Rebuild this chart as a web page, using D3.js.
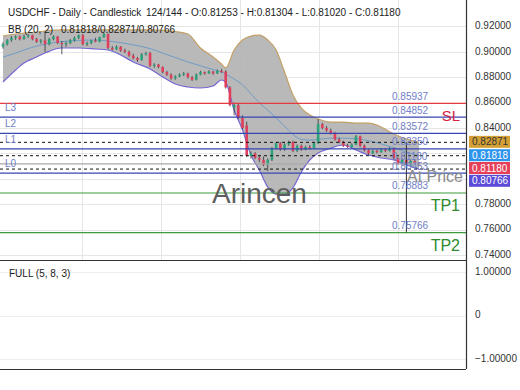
<!DOCTYPE html>
<html>
<head>
<meta charset="utf-8">
<title>USDCHF Daily Candlestick</title>
<style>
  body { margin: 0; background: #fff; }
  svg { display: block; font-family: "Liberation Sans", Arial, sans-serif; }
  .axis text { font-size: 10px; fill: #333; }
  .axis path, .axis line { display: none; }
</style>
</head>
<body>
<svg width="520" height="390"></svg>
<script src="https://cdn.jsdelivr.net/npm/d3@7"></script>
<script>
// candles
var opens = [.9040,.9060,.9090,.9110,.9120,.9100,.9120,.9130,.9100,.9080,
             .9090,.9060,.9100,.9120,.9070,.9060,.9070,.9090,.9110,.9130,
             .9060,.9070,.9090,.9080,.9115,.9140,.9030,.9020,.9040,.9010,
             .9000,.8970,.8950,.8935,.8980,.8990,.8890,.8900,.8880,.8840,
             .8820,.8790,.8805,.8820,.8830,.8800,.8780,.8820,.8840,.8830,
             .8845,.8830,.8850,.8845,.8720,.8560,.8580,.8480,.8420,.8180,
             .8200,.8165,.8150,.8110,.8150,.8240,.8280,.8230,.8270,.8290,
             .8220,.8260,.8230,.8250,.8240,.8280,.8430,.8400,.8380,.8360,
             .8310,.8290,.8260,.8250,.8270,.8335,.8260,.8225,.8200,.8220,
             .8210,.8230,.8220,.8240,.8160,.8120,.8150,.8110,.8140,.81253];
var highs = [.9075,.9100,.9125,.9130,.9128,.9135,.9140,.9135,.9110,.9100,
             .9160,.9110,.9130,.9125,.9085,.9080,.9100,.9120,.9135,.9140,
             .9080,.9095,.9110,.9120,.9150,.9145,.9045,.9050,.9045,.9025,
             .9010,.8985,.8960,.8990,.9000,.9000,.8910,.8905,.8885,.8850,
             .8830,.8815,.8830,.8840,.8835,.8810,.8830,.8850,.8845,.8855,
             .8850,.8860,.8865,.8855,.8730,.8600,.8590,.8500,.8450,.8215,
             .8210,.8180,.8175,.8160,.8250,.8290,.8290,.8280,.8300,.8300,
             .8270,.8270,.8260,.8265,.8290,.8470,.8440,.8415,.8395,.8370,
             .8325,.8300,.8275,.8280,.8345,.8340,.8270,.8235,.8230,.8230,
             .8240,.8240,.8250,.8245,.8170,.8160,.8155,.8150,.8150,.81304];
var lows   = [.9025,.9050,.9080,.9095,.9090,.9095,.9110,.9090,.9070,.9065,
             .9000,.9050,.9090,.9060,.8980,.9040,.9060,.9080,.9100,.9050,
             .9045,.9060,.9075,.9075,.9110,.9020,.9010,.9015,.9000,.8990,
             .8960,.8940,.8920,.8930,.8970,.8880,.8875,.8870,.8830,.8810,
             .8780,.8780,.8800,.8810,.8790,.8770,.8775,.8815,.8820,.8825,
             .8820,.8825,.8835,.8710,.8570,.8500,.8470,.8390,.8170,.8160,
             .8155,.8130,.8100,.8060,.8140,.8230,.8220,.8220,.8260,.8210,
             .8210,.8220,.8225,.8230,.8235,.8275,.8390,.8370,.8350,.8300,
             .8280,.8250,.8240,.8245,.8265,.8250,.8215,.8190,.8195,.8200,
             .8205,.8210,.8215,.8150,.8110,.8110,.8100,.8100,.8115,.81020];
var closes = [.9060,.9090,.9110,.9120,.9100,.9120,.9130,.9100,.9080,.9090,
             .9060,.9100,.9120,.9070,.9060,.9070,.9090,.9110,.9130,.9060,
             .9070,.9090,.9080,.9115,.9140,.9030,.9020,.9040,.9010,.9000,
             .8970,.8950,.8935,.8980,.8990,.8890,.8900,.8880,.8840,.8820,
             .8790,.8805,.8820,.8830,.8800,.8780,.8820,.8840,.8830,.8845,
             .8830,.8850,.8840,.8720,.8580,.8580,.8480,.8400,.8180,.8200,
             .8165,.8150,.8110,.8150,.8240,.8280,.8230,.8270,.8290,.8220,
             .8260,.8230,.8250,.8240,.8280,.8430,.8400,.8380,.8360,.8310,
             .8290,.8260,.8250,.8270,.8335,.8260,.8225,.8200,.8220,.8210,
             .8230,.8220,.8240,.8160,.8120,.8150,.8110,.8140,.8125,.81180];

// Bollinger band (20, 2), read at these candle indices
var bbIdx   = [0,3,5,8,10,14,18,22,25,28,31,35,38,41,44,47,50,52,53,55,57,59,61,
               63,65,67,69,71,73,75,78,81,84,87,90,93,96,99];
var bbUpper = [.9124,.9140,.9148,.9156,.9164,.9172,.9172,.9172,.9172,.9172,.9172,
               .9172,.9168,.9160,.9140,.9030,.8959,.8904,.8872,.9014,.9093,.9124,
               .9132,.9093,.9014,.8841,.8660,.8557,.8502,.8471,.8447,.8447,.8439,
               .8439,.8408,.8353,.8313,.82871];
var bbMid   = [.8959,.8990,.9014,.9045,.9061,.9080,.9090,.9093,.9085,.9072,.9055,
               .9025,.8990,.8955,.8920,.8890,.8860,.8840,.8825,.8785,.8740,.8670,
               .8600,.8540,.8480,.8415,.8350,.8310,.8305,.8310,.8320,.8320,.8315,
               .8300,.8275,.8245,.8210,.81818];
var bbLower = [.8762,.8857,.8912,.8959,.8991,.9030,.9030,.9022,.9014,.8975,.8920,
               .8865,.8802,.8746,.8723,.8715,.8731,.8778,.8760,.8542,.8384,.8187,
               .8069,.7935,.7880,.7880,.7928,.8054,.8148,.8203,.8242,.8266,.8227,
               .8187,.8164,.8148,.8109,.80766];

// trade levels
var levelNames  = ["SL","L3","L2","L1","At Price","L0","TP1","TP2"];
var levelValues = [0.85937,0.84852,0.83572,0.82350,0.81180,0.80453,0.78883,0.75766];
var bbLast      = [0.81818,0.82871,0.80766];
var badgeValues = [0.82871,0.81818,0.81180,0.80766];
var markerIdx   = 96;

var priceTicks = [0.74,0.76,0.78,0.80,0.82,0.84,0.86,0.88,0.90,0.92];
var priceLabels = [0.74,0.76,0.78,0.84,0.86,0.88,0.90,0.92];
var oscTicks   = [-1,0,1];
var gridIdx    = [18.8,37.6,56.4,75.2,94];

var svg = d3.select("svg");
var W = 466, mainBottom = 260, oscBottom = 369;

var x = d3.scaleLinear().domain([0, 99]).range([3, 419]);
var y = d3.scaleLinear().domain([0.74, 0.92]).range([255, 26.4]);
var yo = d3.scaleLinear().domain([-1, 1]).range([359, 272]);

svg.append("clipPath").attr("id", "mainclip")
  .append("rect").attr("width", W).attr("height", mainBottom);

// grid
var grid = svg.append("g").attr("stroke", "#e6e6e6").attr("stroke-width", 1);
grid.selectAll(".gh").data(priceTicks).join("line")
  .attr("x1", 0).attr("x2", W)
  .attr("y1", function(d) { return Math.round(y(d)) + 0.5; })
  .attr("y2", function(d) { return Math.round(y(d)) + 0.5; });
grid.selectAll(".gv").data(gridIdx).join("line")
  .attr("x1", function(d) { return Math.round(x(d)) + 0.5; })
  .attr("x2", function(d) { return Math.round(x(d)) + 0.5; })
  .attr("y1", 0).attr("y2", mainBottom);
grid.selectAll(".go").data(oscTicks).join("line")
  .attr("x1", 0).attr("x2", W)
  .attr("y1", function(d) { return Math.round(yo(d)) + 0.5; })
  .attr("y2", function(d) { return Math.round(yo(d)) + 0.5; })
  .attr("stroke", "#eeeeee");

var plot = svg.append("g").attr("clip-path", "url(#mainclip)");

// bollinger band
var bb = bbIdx.map(function(d, i) {
  return { i: d, up: bbUpper[i], mid: bbMid[i], lo: bbLower[i] };
});
var curve = d3.curveMonotoneX;
plot.append("path").datum(bb)
  .attr("fill", "#b3b3b3").attr("fill-opacity", 0.92)
  .attr("d", d3.area().curve(curve)
    .x(function(d) { return x(d.i); })
    .y0(function(d) { return y(d.lo); })
    .y1(function(d) { return y(d.up); }));

function bandLine(key, color, w) {
  plot.append("path").datum(bb)
    .attr("fill", "none").attr("stroke", color).attr("stroke-width", w)
    .attr("d", d3.line().curve(curve)
      .x(function(d) { return x(d.i); })
      .y(function(d) { return y(d[key]); }));
}
bandLine("up", "#c4a066", 1.2);
bandLine("lo", "#7467d4", 1.2);
bandLine("mid", "#6e9cc8", 1);

// candles
var candles = closes.map(function(c, i) {
  return { i: i, o: opens[i], h: highs[i], l: lows[i], c: c };
});
var cg = plot.append("g");
cg.selectAll(".wick").data(candles).join("line")
  .attr("x1", function(d) { return x(d.i); })
  .attr("x2", function(d) { return x(d.i); })
  .attr("y1", function(d) { return y(d.h); })
  .attr("y2", function(d) { return y(d.l); })
  .attr("stroke", "#333").attr("stroke-width", 0.8);
cg.selectAll(".body").data(candles).join("rect")
  .attr("x", function(d) { return x(d.i) - 1.3; })
  .attr("width", 2.6)
  .attr("y", function(d) { return y(Math.max(d.o, d.c)); })
  .attr("height", function(d) { return Math.max(1, Math.abs(y(d.o) - y(d.c))); })
  .attr("fill", function(d) { return d.c >= d.o ? "#2aa37a" : "#df3f5c"; });

// levels
function levelColor(name) {
  if (name === "SL") return "#e53a3f";
  if (name.indexOf("TP") === 0) return "#3d9a3d";
  if (name === "At Price") return "#a8a8a8";
  return "#3647b0";
}
plot.selectAll(".lvl").data(levelValues).join("line")
  .attr("x1", 0).attr("x2", W)
  .attr("y1", function(d) { return y(d); })
  .attr("y2", function(d) { return y(d); })
  .attr("stroke", function(d, i) { return levelColor(levelNames[i]); })
  .attr("stroke-width", 1.2);

plot.selectAll(".dash").data(bbLast).join("line")
  .attr("x1", 0).attr("x2", W)
  .attr("y1", function(d) { return y(d); })
  .attr("y2", function(d) { return y(d); })
  .attr("stroke", "#111").attr("stroke-width", 1)
  .attr("stroke-dasharray", "3,3");

plot.append("line")
  .attr("x1", x(markerIdx)).attr("x2", x(markerIdx))
  .attr("y1", y(badgeValues[0])).attr("y2", y(levelValues[7]))
  .attr("stroke", "#333").attr("stroke-width", 1);

// level value labels
plot.selectAll(".lv").data(levelValues).join("text")
  .attr("x", 392)
  .attr("y", function(d) { return y(d) - 3.5; })
  .attr("font-size", 10).attr("fill", "#6f80c8")
  .text(function(d) { return d.toFixed(5); });

// L0..L3 tags at left
plot.selectAll(".lt").data(levelNames.map(function(n, i) { return { n: n, v: levelValues[i] }; })
    .filter(function(d) { return d.n[0] === "L"; }))
  .join("text")
  .attr("x", 5).attr("y", function(d) { return y(d.v) - 6; })
  .attr("font-size", 10).attr("fill", "#6f80c8")
  .text(function(d) { return d.n; });

// big tags on right
var bigTags = [["SL", 0, "#d8203f", 15], ["TP1", 6, "#2e8b2e", 16], ["TP2", 7, "#2e8b2e", 16]];
bigTags.forEach(function(t) {
  plot.append("text")
    .attr("x", 460).attr("y", y(levelValues[t[1]]) + (t[0] === "SL" ? 18 : 18))
    .attr("text-anchor", "end").attr("font-size", t[3]).attr("fill", t[2])
    .text(t[0]);
});
plot.append("text")
  .attr("x", 407).attr("y", y(levelValues[4]) + 18)
  .attr("font-size", 16).attr("fill", "#8a8a8a")
  .text("At Price");

plot.append("text")
  .attr("x", 212).attr("y", 203)
  .attr("font-size", 28).attr("fill", "#5e5e5e")
  .text("Arincen");

// borders
var border = svg.append("g").attr("stroke", "#333").attr("stroke-width", 1.2).attr("fill", "none");
border.append("line").attr("x1", W + 0.5).attr("x2", W + 0.5).attr("y1", 0).attr("y2", oscBottom);
border.append("line").attr("x1", 0).attr("x2", W).attr("y1", mainBottom + 0.5).attr("y2", mainBottom + 0.5);
border.append("line").attr("x1", 0).attr("x2", W).attr("y1", oscBottom + 0.5).attr("y2", oscBottom + 0.5);

// axes
svg.append("g").attr("class", "axis")
  .attr("transform", "translate(" + W + ",-1)")
  .call(d3.axisRight(y).tickValues(priceLabels).tickSize(0).tickPadding(9)
    .tickFormat(d3.format(".5f")));
svg.append("g").attr("class", "axis")
  .attr("transform", "translate(" + W + ",-1)")
  .call(d3.axisRight(yo).tickValues(oscTicks).tickSize(0).tickPadding(9)
    .tickFormat(function(d) { return d === 0 ? "0" : d3.format(".5f")(d); }));

// price badges
var badgeColors = ["#d4a036", "#2f95ec", "#e5405a", "#5a4bd8"];
var prev = -Infinity;
var badges = badgeValues.map(function(v) {
  var cy = Math.max(y(v) - 0.5, prev + 12.8);
  prev = cy;
  return { v: v, cy: cy };
});
var bgs = svg.selectAll(".badge").data(badges).join("g")
  .attr("transform", function(d) { return "translate(469," + d.cy + ")"; });
bgs.append("rect").attr("x", 0).attr("y", -6).attr("width", 41).attr("height", 12)
  .attr("fill", function(d, i) { return badgeColors[i]; });
bgs.append("text").attr("x", 3).attr("y", 3.6).attr("font-size", 10)
  .attr("fill", function(d, i) { return i === 0 ? "#333" : "#fff"; })
  .text(function(d) { return d.v.toFixed(5); });

// header texts
var head = svg.append("g").attr("font-size", 10).attr("fill", "#222");
head.append("text").attr("x", 8).attr("y", 16).text("USDCHF - Daily - Candlestick");
head.append("text").attr("x", 146).attr("y", 16)
  .text("124/144 - O:0.81253 - H:0.81304 - L:0.81020 - C:0.81180");
head.append("text").attr("x", 8).attr("y", 33).text("BB (20, 2)");
head.append("text").attr("x", 61).attr("y", 33)
  .text(bbLast.map(function(d) { return d.toFixed(5); }).join("/"));
head.append("text").attr("x", 9).attr("y", 277).text("FULL (5, 8, 3)");
</script>
</body>
</html>
